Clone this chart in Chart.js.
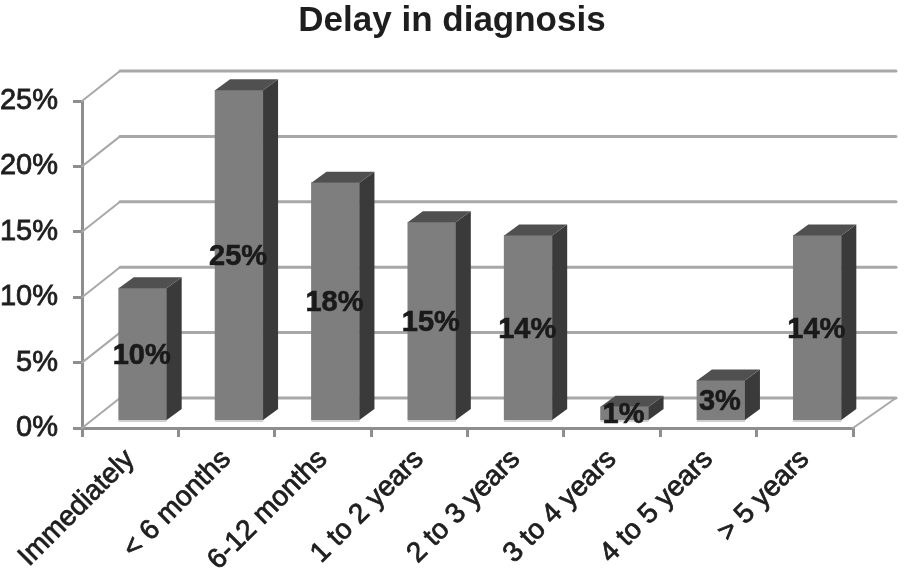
<!DOCTYPE html>
<html>
<head>
<meta charset="utf-8">
<title>Delay in diagnosis</title>
<script src="https://cdn.jsdelivr.net/npm/chart.js@4"></script>
<style>
  html, body { margin: 0; background: #fff; }
  canvas { display: block; }
</style>
</head>
<body>
<canvas id="delayChart" width="904" height="572"></canvas>
<script>
// ─── Data ─────────────────────────────────────────────────────────────────────
const categories = ['Immediately', '< 6 months', '6-12 months', '1 to 2 years', '2 to 3 years', '3 to 4 years', '4 to 5 years', '> 5 years'];
const delayPct   = [10, 25, 18, 15, 14, 1, 3, 14];
const yTicks     = [0, 5, 10, 15, 20, 25];

const FONT = '"Liberation Sans", Arial, sans-serif';
const INK  = '#1e1e1e';
const AXIS = '#8e8e8e';
const WALL = '#a8a8a8';

// box offsets of the fake 3D: floor depth, bar position on the floor, bar depth
const FLOOR = { dx: 38, dy: -30 };
const BAR_POS = { dx: 12.5, dy: -8 };
const BAR_DEPTH = { dx: 15, dy: -11 };

// ─── Fake 3D plugin ───────────────────────────────────────────────────────────
const box3d = {
  id: 'box3d',
  beforeDatasetsDraw(chart) {
    const { ctx, scales: { x, y } } = chart;
    ctx.save();
    ctx.lineCap = 'round';
    yTicks.forEach(v => {
      const py = y.getPixelForValue(v);
      ctx.strokeStyle = WALL;
      ctx.lineWidth = 2;
      ctx.beginPath();
      ctx.moveTo(x.left, py);
      ctx.lineTo(x.left + FLOOR.dx, py + FLOOR.dy);
      ctx.stroke();
      ctx.lineWidth = 3;
      ctx.beginPath();
      ctx.moveTo(x.left + FLOOR.dx, py + FLOOR.dy);
      ctx.lineTo(x.right + FLOOR.dx + 5, py + FLOOR.dy);
      ctx.stroke();
    });
    // right edge of the floor
    const py0 = y.getPixelForValue(0);
    ctx.lineWidth = 2;
    ctx.beginPath();
    ctx.moveTo(x.right, py0);
    ctx.lineTo(x.right + FLOOR.dx + 5, py0 + FLOOR.dy);
    ctx.stroke();
    ctx.restore();
  },
  beforeDatasetDraw(chart) {
    chart.ctx.save();
    chart.ctx.translate(BAR_POS.dx, BAR_POS.dy);
  },
  afterDatasetDraw(chart, args) {
    const { ctx } = chart;
    args.meta.data.forEach(bar => {
      const l = bar.x - bar.width / 2, r = bar.x + bar.width / 2;
      // bottom edge highlight
      ctx.fillStyle = '#d0d0d0';
      ctx.fillRect(l, bar.base, bar.width, 2);
      // side face
      ctx.fillStyle = '#3a3a3a';
      ctx.beginPath();
      ctx.moveTo(r, bar.y);
      ctx.lineTo(r + BAR_DEPTH.dx, bar.y + BAR_DEPTH.dy);
      ctx.lineTo(r + BAR_DEPTH.dx, bar.base + BAR_DEPTH.dy);
      ctx.lineTo(r, bar.base);
      ctx.closePath();
      ctx.fill();
      // top face
      ctx.fillStyle = '#505050';
      ctx.beginPath();
      ctx.moveTo(l, bar.y);
      ctx.lineTo(l + BAR_DEPTH.dx, bar.y + BAR_DEPTH.dy);
      ctx.lineTo(r + BAR_DEPTH.dx, bar.y + BAR_DEPTH.dy);
      ctx.lineTo(r, bar.y);
      ctx.closePath();
      ctx.fill();
    });
    ctx.restore();
  },
  afterDraw(chart) {
    const { ctx } = chart;
    const meta = chart.getDatasetMeta(0);
    ctx.save();
    ctx.font = `bold 29px ${FONT}`;
    ctx.fillStyle = '#1a1a1a';
    ctx.strokeStyle = '#1a1a1a';
    ctx.lineWidth = 0.6;
    ctx.textAlign = 'center';
    ctx.textBaseline = 'middle';
    meta.data.forEach((bar, i) => {
      const tx = bar.x + BAR_POS.dx - 1, ty = (bar.y + bar.base) / 2 + BAR_POS.dy + 2;
      ctx.fillText(delayPct[i] + '%', tx, ty);
      ctx.strokeText(delayPct[i] + '%', tx, ty);
    });
    ctx.restore();
  }
};

// ─── Chart ────────────────────────────────────────────────────────────────────
new Chart(document.getElementById('delayChart'), {
  type: 'bar',
  data: {
    labels: categories,
    datasets: [{
      label: 'Delay in diagnosis',
      data: delayPct,
      yAxisID: 'yBars',
      backgroundColor: '#7e7e7e',
      barThickness: 48,
      clip: false
    }]
  },
  options: {
    responsive: false,
    animation: false,
    plugins: {
      legend: { display: false },
      tooltip: { enabled: false },
      title: {
        display: true,
        text: 'Delay in diagnosis',
        color: INK,
        font: { family: FONT, size: 35, weight: 'bold' },
        padding: { top: 0, bottom: 59 }
      }
    },
    scales: {
      x: {
        grid: { offset: true, drawOnChartArea: false, color: AXIS, lineWidth: 3, tickLength: 9 },
        border: { color: AXIS, width: 3 },
        ticks: {
          color: INK, font: { family: FONT, size: 28 },
          textStrokeColor: INK, textStrokeWidth: 0.8,
          minRotation: 45, maxRotation: 45, autoSkip: false, padding: 6
        },
        afterFit(s) { s.height = 144; }
      },
      y: {
        min: 0, max: 25,
        afterBuildTicks(s) { s.ticks = yTicks.map(value => ({ value })); },
        grid: { drawOnChartArea: false, color: AXIS, lineWidth: 3, tickLength: 9 },
        border: { color: AXIS, width: 3 },
        ticks: {
          color: INK, font: { family: FONT, size: 29 }, padding: 15,
          textStrokeColor: INK, textStrokeWidth: 0.8,
          callback: v => v + '%'
        },
        afterFit(s) { s.width = 82; }
      },
      // hidden axis for the bars, they run a touch taller than the tick spacing
      yBars: {
        position: 'right',
        min: 0, max: 24.8,
        grid: { display: false },
        border: { display: false },
        ticks: { display: false },
        afterFit(s) { s.width = 51; }
      }
    }
  },
  plugins: [box3d]
});
</script>
</body>
</html>
